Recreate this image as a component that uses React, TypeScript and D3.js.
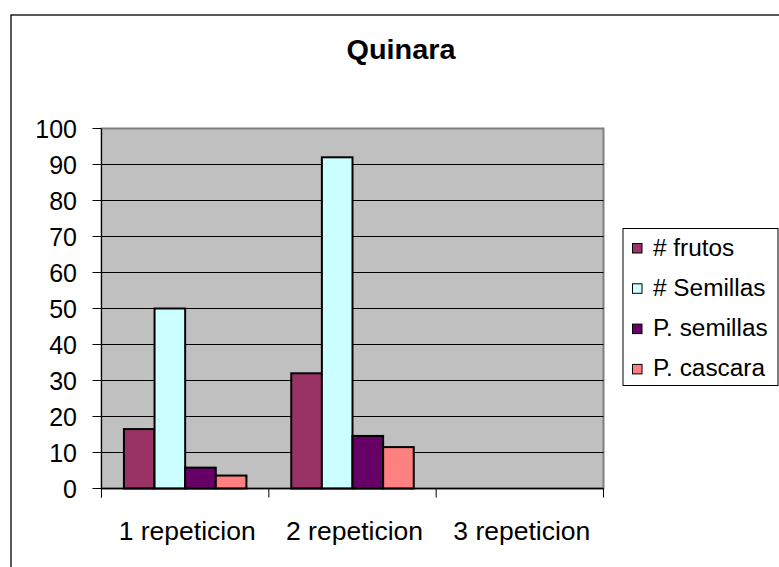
import React from "react";
import * as d3 from "d3";

const categories = ["1 repeticion", "2 repeticion", "3 repeticion"];
const seriesNames = ["# frutos", "# Semillas", "P. semillas", "P. cascara"];
const frutos: (number | null)[] = [16.5, 32, null];
const semillas: (number | null)[] = [50, 92, null];
const pSemillas: (number | null)[] = [5.8, 14.6, null];
const pCascara: (number | null)[] = [3.6, 11.5, null];
const seriesColors = ["#993366", "#CCFFFF", "#660066", "#FF8080"];
const yTicks = [0, 10, 20, 30, 40, 50, 60, 70, 80, 90, 100];
const title = "Quinara";

const W = 779;
const H = 567;
const FONT = "Arial, 'Liberation Sans', sans-serif";

export default function App() {
  const series = [frutos, semillas, pSemillas, pCascara];
  const plot = { left: 101.5, right: 603.5, top: 128.5, bottom: 488.5 };
  const y = d3.scaleLinear().domain([0, 100]).range([plot.bottom, plot.top]);
  const x = d3
    .scaleBand<string>()
    .domain(categories)
    .range([plot.left, plot.right])
    .paddingInner(0)
    .paddingOuter(0);
  const bw = x.bandwidth();
  const inner = d3
    .scaleBand<string>()
    .domain(seriesNames)
    .range([bw * 0.134, bw * 0.866])
    .paddingInner(0);

  const catEdges = categories.map((c) => x(c) as number).concat([plot.right]);

  return (
    <svg
      width={W}
      height={H}
      style={{ position: "fixed", left: 0, top: 0, background: "#fff" }}
      fontFamily={FONT}
    >
      <rect x={0} y={0} width={W} height={H} fill="#fff" />
      {/* outer chart frame */}
      <rect x={11} y={15} width={W + 20} height={H + 20} fill="none" stroke="#000" strokeWidth={1.3} />
      <text
        transform="translate(401,59) scale(1.03,1)"
        textAnchor="middle"
        fontSize={28}
        fontWeight="bold"
        fill="#000"
      >
        {title}
      </text>

      {/* plot area */}
      <rect
        x={plot.left}
        y={plot.top}
        width={plot.right - plot.left}
        height={plot.bottom - plot.top}
        fill="#C0C0C0"
        stroke="#808080"
        strokeWidth={2}
      />
      {yTicks.slice(1, -1).map((t) => (
        <line key={t} x1={plot.left} x2={plot.right} y1={y(t)} y2={y(t)} stroke="#000" strokeWidth={1} />
      ))}

      {/* bars */}
      {series.map((vals, si) =>
        vals.map((v, ci) =>
          v == null ? null : (
            <rect
              key={`${si}-${ci}`}
              x={(x(categories[ci]) as number) + (inner(seriesNames[si]) as number)}
              y={y(v)}
              width={inner.bandwidth()}
              height={y(0) - y(v)}
              fill={seriesColors[si]}
              stroke="#000"
              strokeWidth={2}
            />
          )
        )
      )}

      {/* axes */}
      <line x1={plot.left} x2={plot.left} y1={plot.top} y2={plot.bottom + 9} stroke="#000" strokeWidth={1} />
      <line x1={plot.left} x2={plot.right} y1={plot.bottom} y2={plot.bottom} stroke="#000" strokeWidth={1.3} />
      {yTicks.map((t) => (
        <g key={t}>
          <line x1={plot.left - 9} x2={plot.left} y1={y(t)} y2={y(t)} stroke="#000" strokeWidth={1} />
          <text x={77} y={y(t) + 9} textAnchor="end" fontSize={25} fill="#000">
            {t}
          </text>
        </g>
      ))}
      {catEdges.map((e, i) => (
        <line key={i} x1={e} x2={e} y1={plot.bottom} y2={plot.bottom + 9} stroke="#000" strokeWidth={1} />
      ))}
      {categories.map((c) => (
        <text
          key={c}
          transform={`translate(${(x(c) as number) + bw / 2 + 2},540) scale(1.04,1)`}
          textAnchor="middle"
          fontSize={25.5}
          fill="#000"
        >
          {c}
        </text>
      ))}

      {/* legend */}
      <rect x={623} y={228.5} width={155} height={157} fill="#fff" stroke="#000" strokeWidth={1} />
      {seriesNames.map((s, i) => {
        const cy = 248 + i * 40.3;
        return (
          <g key={s}>
            <rect x={632.5} y={cy - 4.5} width={9.5} height={9.5} fill={seriesColors[i]} stroke="#000" strokeWidth={1} />
            <text transform={`translate(653,${cy + 7.5}) scale(1.06,1)`} fontSize={23} fill="#000">
              {s}
            </text>
          </g>
        );
      })}
    </svg>
  );
}
